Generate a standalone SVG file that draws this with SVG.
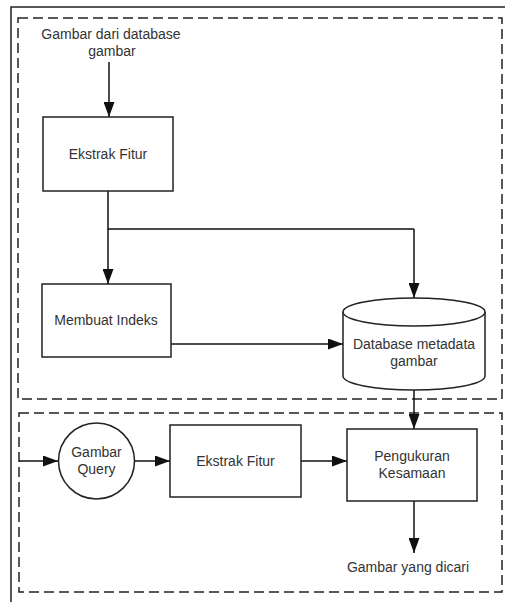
<svg xmlns="http://www.w3.org/2000/svg" width="505" height="602" viewBox="0 0 505 602">
<defs>
<marker id="arr" markerUnits="userSpaceOnUse" markerWidth="15" markerHeight="11" refX="15" refY="5.5" orient="auto">
<path d="M0,0 L15,5.5 L0,11 z" fill="#111"/>
</marker>
<style>
.box{fill:#fff;stroke:#222;stroke-width:1.5}
.dash{fill:none;stroke:#222;stroke-width:1.5;stroke-dasharray:10 5}
.ln{fill:none;stroke:#111;stroke-width:1.5}
.arr{fill:none;stroke:#111;stroke-width:1.5;marker-end:url(#arr)}
text{font-family:"Liberation Sans",Arial,sans-serif;font-size:14px;fill:#333;text-anchor:middle}
</style>
</defs>
<rect width="505" height="602" fill="#fff"/>
<rect x="11" y="7" width="600" height="700" fill="none" stroke="#222" stroke-width="1.5"/>
<g id="upper-group"><rect class="dash" x="18" y="18" width="484" height="381"/></g>
<g id="lower-group"><rect class="dash" x="19" y="413" width="483" height="179"/></g>
<g id="connectors">
<line class="arr" x1="109" y1="62" x2="109" y2="117"/>
<polyline class="ln" points="108,191 108,229 414,229"/>
<line class="arr" x1="108" y1="229" x2="108" y2="284"/>
<line class="arr" x1="414" y1="229" x2="414" y2="298"/>
<line class="arr" x1="171" y1="344" x2="343" y2="344"/>
<line class="arr" x1="414" y1="390" x2="414" y2="429"/>
<line class="arr" x1="19" y1="461" x2="58" y2="461"/>
<line class="arr" x1="135" y1="461" x2="170" y2="461"/>
<line class="arr" x1="301" y1="461" x2="347" y2="461"/>
<line class="arr" x1="414" y1="501" x2="414" y2="553"/>
</g>
<g id="src"><text x="111" y="39">Gambar dari database</text><text x="112" y="56">gambar</text></g>
<g id="ekstrak1"><rect class="box" x="43" y="117" width="130" height="74"/><text x="108" y="159">Ekstrak Fitur</text></g>
<g id="indeks"><rect class="box" x="42" y="284" width="129" height="73"/><text x="106" y="325">Membuat Indeks</text></g>
<g id="db">
<path class="box" d="M343,312 L343,376 A71,14 0 0 0 485,376 L485,312"/>
<ellipse class="box" cx="414" cy="312" rx="71" ry="14"/>
<text x="414" y="349">Database metadata</text><text x="414" y="366">gambar</text>
</g>
<g id="query"><circle class="box" cx="96.5" cy="461" r="38"/><text x="96.5" y="457">Gambar</text><text x="96.5" y="474">Query</text></g>
<g id="ekstrak2"><rect class="box" x="170" y="425" width="131" height="72"/><text x="235.5" y="466">Ekstrak Fitur</text></g>
<g id="ukur"><rect class="box" x="347" y="429" width="130" height="72"/><text x="412" y="461">Pengukuran</text><text x="412" y="478">Kesamaan</text></g>
<g id="hasil"><text x="408" y="572">Gambar yang dicari</text></g>
</svg>
